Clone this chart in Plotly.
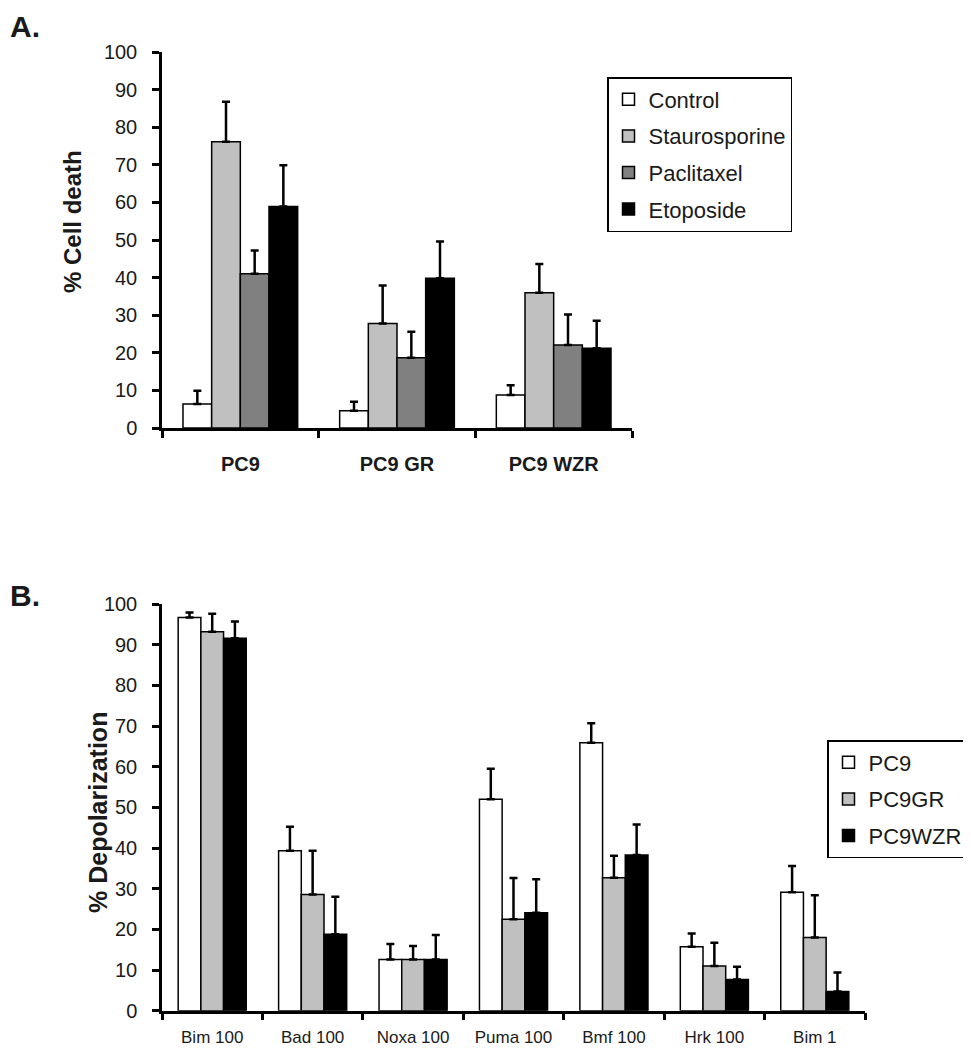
import plotly.graph_objects as go

# ---------------- Panel A data ----------------
cells_a = ["PC9", "PC9 GR", "PC9 WZR"]
treatments = ["Control", "Staurosporine", "Paclitaxel", "Etoposide"]
control_mean = [6.4, 4.6, 8.8]
control_err = [3.5, 2.4, 2.6]
stauro_mean = [76.1, 27.8, 36.0]
stauro_err = [10.7, 10.1, 7.6]
pacli_mean = [41.0, 18.7, 22.1]
pacli_err = [6.2, 6.9, 8.1]
etop_mean = [58.9, 39.8, 21.2]
etop_err = [11.0, 9.8, 7.3]

# ---------------- Panel B data ----------------
peptides = ["Bim 100", "Bad 100", "Noxa 100", "Puma 100", "Bmf 100", "Hrk 100", "Bim 1"]
lines_b = ["PC9", "PC9GR", "PC9WZR"]
pc9_mean = [96.7, 39.3, 12.6, 52.0, 65.9, 15.7, 29.1]
pc9_err = [1.2, 5.9, 3.8, 7.5, 4.8, 3.3, 6.5]
pc9gr_mean = [93.2, 28.6, 12.6, 22.5, 32.7, 11.0, 18.0]
pc9gr_err = [4.4, 10.7, 3.3, 10.1, 5.4, 5.7, 10.4]
pc9wzr_mean = [91.6, 18.8, 12.6, 24.1, 38.3, 7.7, 4.7]
pc9wzr_err = [4.1, 9.2, 6.0, 8.2, 7.5, 3.1, 4.7]

FONT = "Liberation Sans, Arial, sans-serif"
TXT = "#1a1a1a"

fig = go.Figure()

a_series = [
    (treatments[0], control_mean, control_err, "#ffffff"),
    (treatments[1], stauro_mean, stauro_err, "#c0c0c0"),
    (treatments[2], pacli_mean, pacli_err, "#808080"),
    (treatments[3], etop_mean, etop_err, "#000000"),
]
wa = 0.183
for i, (name, m, e, c) in enumerate(a_series):
    fig.add_trace(go.Bar(
        x=cells_a, y=m, name=name, xaxis="x", yaxis="y",
        width=wa, offset=-2 * wa + i * wa,
        marker=dict(color=c, line=dict(color="#000000", width=1.5)),
        error_y=dict(type="data", array=e, arrayminus=[0] * len(e), symmetric=False,
                     color="#000000", thickness=2.5, width=4),
        legend="legend", legendgroup="a%d" % i,
    ))

b_series = [
    (lines_b[0], pc9_mean, pc9_err, "#ffffff"),
    (lines_b[1], pc9gr_mean, pc9gr_err, "#c0c0c0"),
    (lines_b[2], pc9wzr_mean, pc9wzr_err, "#000000"),
]
wb = 0.226
for i, (name, m, e, c) in enumerate(b_series):
    fig.add_trace(go.Bar(
        x=peptides, y=m, name=name, xaxis="x2", yaxis="y2",
        width=wb, offset=-1.5 * wb + i * wb,
        marker=dict(color=c, line=dict(color="#000000", width=1.5)),
        error_y=dict(type="data", array=e, arrayminus=[0] * len(e), symmetric=False,
                     color="#000000", thickness=2.5, width=4),
        legend="legend2", legendgroup="b%d" % i,
    ))

# page body adds an 8px margin; work in figure pixels = reference pixels - 8
OFF = 8
W, H = 971 - OFF, 1050 - OFF
def px_x(a, b):
    return [(a - OFF) / W, (b - OFF) / W]
def px_y(top, bottom):
    return [1 - (bottom - OFF) / H, 1 - (top - OFF) / H]
def fx(v):
    return (v - OFF) / W
def fy(v):
    return 1 - (v - OFF) / H

yax_common = dict(range=[0, 100], dtick=10, showline=True, linecolor="#000000", linewidth=2.5,
                  ticks="outside", ticklen=7, tickwidth=2.5, tickcolor="#000000",
                  showgrid=False, zeroline=False, ticklabelstandoff=11, automargin=False,
                  tickfont=dict(family=FONT, size=20, color=TXT))
xax_common = dict(type="category", showline=True, linecolor="#000000", linewidth=2.5,
                  ticks="outside", tickson="boundaries", ticklen=7, tickwidth=2.5,
                  tickcolor="#000000", showgrid=False, automargin=False, tickangle=0)

fig.update_layout(
    template="none",
    width=W, height=H, margin=dict(l=0, r=0, t=0, b=0, autoexpand=False),
    plot_bgcolor="#ffffff", paper_bgcolor="#ffffff",
    barmode="overlay", showlegend=True,
    xaxis=dict(domain=px_x(162, 632), anchor="y", range=[-0.5, 2.5],
               ticklabelstandoff=16,
               tickfont=dict(family=FONT, size=20, color=TXT, weight="bold"),
               **xax_common),
    yaxis=dict(domain=px_y(52, 428), anchor="x", **yax_common),
    xaxis2=dict(domain=px_x(162, 865), anchor="y2", range=[-0.5, 6.5],
                ticklabelstandoff=9,
                tickfont=dict(family=FONT, size=17, color=TXT),
                **xax_common),
    yaxis2=dict(domain=px_y(604, 1010.7), anchor="x2", **yax_common),
    legend=dict(x=fx(607), y=fy(77), xanchor="left", yanchor="top",
                bordercolor="#000000", borderwidth=1.5, bgcolor="#ffffff",
                font=dict(family=FONT, size=22, color=TXT),
                tracegroupgap=5, traceorder="grouped"),
    legend2=dict(x=fx(827), y=fy(740), xanchor="left", yanchor="top",
                 bordercolor="#000000", borderwidth=1.5, bgcolor="#ffffff",
                 font=dict(family=FONT, size=22, color=TXT),
                 tracegroupgap=5, traceorder="grouped"),
    annotations=[
        dict(text="<b>A.</b>", x=0, y=1, xref="paper", yref="paper",
             xanchor="left", yanchor="top", showarrow=False,
             font=dict(family=FONT, size=30, color=TXT)),
        dict(text="<b>B.</b>", x=0, y=fy(595), xref="paper", yref="paper",
             xanchor="left", yanchor="middle", showarrow=False,
             font=dict(family=FONT, size=30, color=TXT)),
        dict(text="<b>% Cell death</b>", x=fx(72), y=fy(222), xref="paper", yref="paper",
             xanchor="center", yanchor="middle", showarrow=False, textangle=-90,
             font=dict(family=FONT, size=24, color=TXT)),
        dict(text="<b>% Depolarization</b>", x=fx(98), y=fy(813), xref="paper", yref="paper",
             xanchor="center", yanchor="middle", showarrow=False, textangle=-90,
             font=dict(family=FONT, size=25, color=TXT)),
    ],
)

fig.write_html("out.html")
